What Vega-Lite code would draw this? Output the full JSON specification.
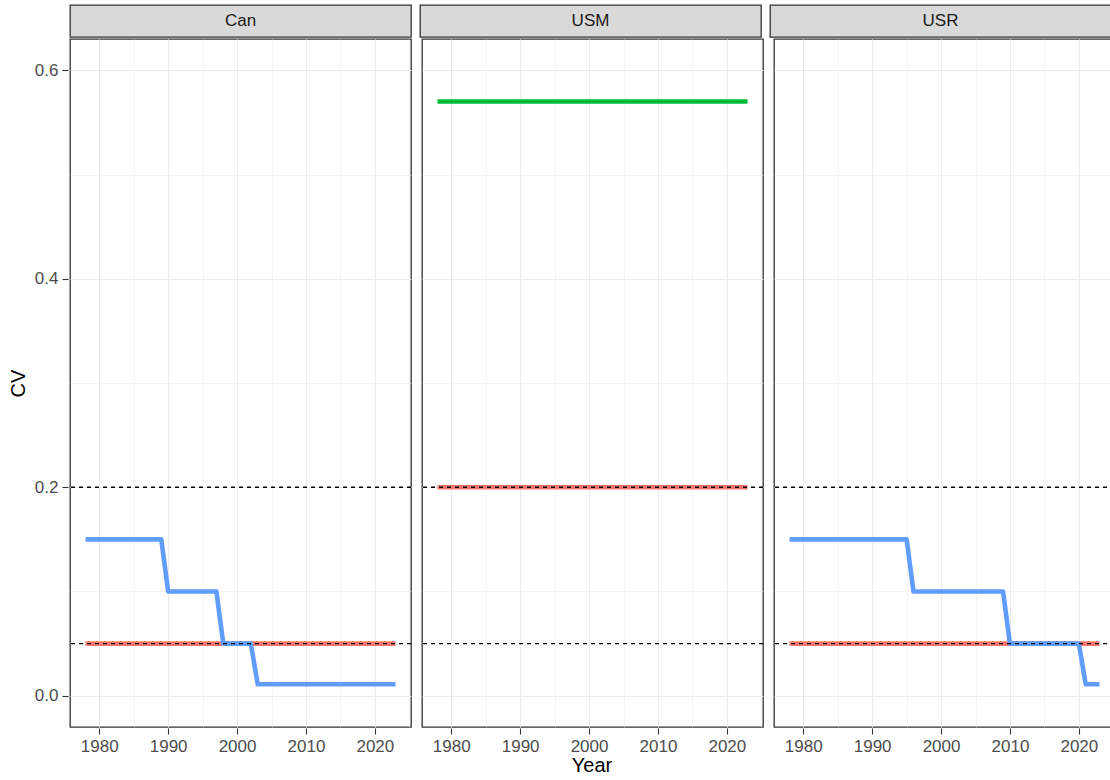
{
  "$schema": "https://vega.github.io/schema/vega-lite/v6.json",
  "padding": {"left": 8, "top": 4, "right": 0, "bottom": 0},
  "background": "white",
  "datasets": {
    "strips": [
      {"panel": "Can"}, {"panel": "USM"}, {"panel": "USR"}
    ],
    "cv": [
      {"panel": "Can", "series": "1", "year": 1978, "cv": 0.05},
      {"panel": "Can", "series": "1", "year": 2023, "cv": 0.05},
      {"panel": "Can", "series": "3", "year": 1978, "cv": 0.15},
      {"panel": "Can", "series": "3", "year": 1989, "cv": 0.15},
      {"panel": "Can", "series": "3", "year": 1990, "cv": 0.1},
      {"panel": "Can", "series": "3", "year": 1997, "cv": 0.1},
      {"panel": "Can", "series": "3", "year": 1998, "cv": 0.05},
      {"panel": "Can", "series": "3", "year": 2002, "cv": 0.05},
      {"panel": "Can", "series": "3", "year": 2003, "cv": 0.011},
      {"panel": "Can", "series": "3", "year": 2023, "cv": 0.011},
      {"panel": "USM", "series": "1", "year": 1978, "cv": 0.2},
      {"panel": "USM", "series": "1", "year": 2023, "cv": 0.2},
      {"panel": "USM", "series": "2", "year": 1978, "cv": 0.57},
      {"panel": "USM", "series": "2", "year": 2023, "cv": 0.57},
      {"panel": "USR", "series": "1", "year": 1978, "cv": 0.05},
      {"panel": "USR", "series": "1", "year": 2023, "cv": 0.05},
      {"panel": "USR", "series": "3", "year": 1978, "cv": 0.15},
      {"panel": "USR", "series": "3", "year": 1995, "cv": 0.15},
      {"panel": "USR", "series": "3", "year": 1996, "cv": 0.1},
      {"panel": "USR", "series": "3", "year": 2009, "cv": 0.1},
      {"panel": "USR", "series": "3", "year": 2010, "cv": 0.05},
      {"panel": "USR", "series": "3", "year": 2020, "cv": 0.05},
      {"panel": "USR", "series": "3", "year": 2021, "cv": 0.011},
      {"panel": "USR", "series": "3", "year": 2023, "cv": 0.011},
      {"panel": "Can", "series": "ref", "cv": 0.2},
      {"panel": "Can", "series": "ref", "cv": 0.05},
      {"panel": "USM", "series": "ref", "cv": 0.2},
      {"panel": "USM", "series": "ref", "cv": 0.05},
      {"panel": "USR", "series": "ref", "cv": 0.2},
      {"panel": "USR", "series": "ref", "cv": 0.05}
    ]
  },
  "spacing": 0,
  "vconcat": [
    {
      "data": {"name": "strips"},
      "facet": {"column": {"field": "panel", "type": "nominal", "header": null}},
      "spacing": 7,
      "spec": {
        "width": 341,
        "height": 32,
        "view": {"fill": "#d9d9d9", "stroke": "#333333", "strokeWidth": 1.3},
        "mark": {"type": "text", "font": "Liberation Sans", "fontSize": 17, "fill": "#1a1a1a", "baseline": "middle", "align": "center"},
        "encoding": {"text": {"field": "panel", "type": "nominal"}}
      }
    },
    {
      "data": {"name": "cv"},
      "title": {"text": "Year", "orient": "bottom", "anchor": "middle", "frame": "group", "dx": 522, "font": "Liberation Sans", "fontSize": 20, "fontWeight": "normal", "color": "#000000", "offset": 2},
      "facet": {"column": {"field": "panel", "type": "nominal", "header": null}},
      "spacing": 7,
      "spec": {
        "width": 341,
        "height": 688,
        "view": {"fill": "white", "stroke": "#333333", "strokeWidth": 1.3},
        "layer": [
          {
            "transform": [{"filter": "datum.series !== 'ref'"}],
            "mark": {"type": "line", "strokeWidth": 4.6, "strokeCap": "butt", "strokeJoin": "round"},
            "encoding": {
              "x": {
                "field": "year", "type": "quantitative", "title": null,
                "scale": {"domain": [1975.75, 2025.25], "nice": false, "zero": false},
                "axis": {
                  "values": [1980, 1985, 1990, 1995, 2000, 2005, 2010, 2015, 2020, 2025],
                  "format": "d",
                  "labelExpr": "datum.value % 10 === 0 ? datum.label : ''",
                  "gridWidth": {"condition": {"test": "datum.value % 10 === 0", "value": 1.1}, "value": 0.55},
                  "tickOpacity": {"condition": {"test": "datum.value % 10 === 0", "value": 1}, "value": 0}
                }
              },
              "y": {
                "field": "cv", "type": "quantitative", "title": "CV",
                "scale": {"domain": [-0.03, 0.63], "nice": false, "zero": false},
                "axis": {
                  "values": [0, 0.1, 0.2, 0.3, 0.4, 0.5, 0.6],
                  "format": ".1f",
                  "labelExpr": "round(datum.value * 10) % 2 === 0 ? datum.label : ''",
                  "gridWidth": {"condition": {"test": "round(datum.value * 10) % 2 === 0", "value": 1.1}, "value": 0.55},
                  "tickOpacity": {"condition": {"test": "round(datum.value * 10) % 2 === 0", "value": 1}, "value": 0}
                }
              },
              "color": {
                "field": "series", "type": "nominal",
                "scale": {"domain": ["1", "2", "3"], "range": ["#F8766D", "#00BA38", "#619CFF"]},
                "legend": null
              }
            }
          },
          {
            "transform": [{"filter": "datum.series === 'ref'"}],
            "mark": {"type": "rule", "color": "#000000", "strokeWidth": 1.4, "strokeDash": [4, 4]},
            "encoding": {
              "y": {
                "field": "cv", "type": "quantitative", "title": "CV",
                "scale": {"domain": [-0.03, 0.63], "nice": false, "zero": false}
              }
            }
          }
        ]
      }
    }
  ],
  "config": {
    "font": "Liberation Sans",
    "axis": {
      "domain": false,
      "gridColor": "#ebebeb",
      "tickColor": "#333333",
      "tickSize": 6,
      "tickWidth": 1.1,
      "labelColor": "#4d4d4d",
      "labelFontSize": 17,
      "labelFont": "Liberation Sans",
      "labelPadding": 4,
      "labelFlush": false,
      "labelOverlap": false,
      "titleFont": "Liberation Sans",
      "titleFontSize": 20,
      "titleFontWeight": "normal",
      "titleColor": "#000000"
    },
    "axisX": {"titlePadding": 3},
    "axisY": {"titlePadding": 6}
  }
}
